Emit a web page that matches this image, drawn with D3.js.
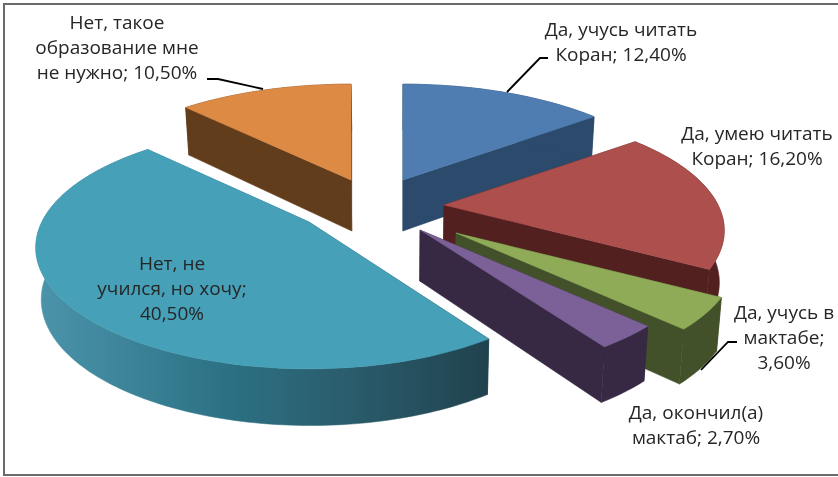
<!DOCTYPE html>
<html><head><meta charset="utf-8">
<script src="https://cdn.jsdelivr.net/npm/d3@7"></script>
<style>html,body{margin:0;padding:0;background:#fff}svg{display:block;filter:blur(0.55px)}</style></head>
<body><svg id="c" width="838" height="477"></svg>
<script>
const categories = ["Да, учусь читать Коран","Да, умею читать Коран","Да, учусь в мактабе","Да, окончил(а) мактаб","Нет, не учился, но хочу","Нет, такое образование мне не нужно"];
const values = [12.4,16.2,3.6,2.7,40.5,10.5];
const labelLines = [
  ["Да, учусь читать","Коран; 12,40%"],
  ["Да, умею читать","Коран; 16,20%"],
  ["Да, учусь в","мактабе;","3,60%"],
  ["Да, окончил(а)","мактаб; 2,70%"],
  ["Нет, не","учился, но хочу;","40,50%"],
  ["Нет, такое","образование мне","не нужно; 10,50%"]
];
const topColors = ["#4f7db1","#ad4f4c","#8fab58","#7c6198","#46a0b8","#dd8a44"];
const wallColors = ["#2c4a6c","#52201f","#42512a","#372943","url(#tealWall)","#623d1c"];
const apexes = [[403,180],[444,205],[456,233],[420,230],[309,222],[351,180]];
const widthScale = [1,1,1,1,0.975,1];
const labelAnchors = [[621,30],[757,134],[784,313],[696,413],[172,264],[117,23]];
const leaders = [[[548,58],[540,58],[507,92]],null,[[737,342],[728,342],[701,370]],null,null,[[207,79],[218,79],[263,89]]];
const drawOrder = [5,0,1,2,3,4];

const RX=274, RY=116, PERSP=0.21, DEPTH=51, LINE=25.2;
const pie=d3.pie().sort(null).value(d=>d);
const arcs=pie(values);
const svg=d3.select("#c");
const defs=svg.append("defs");
const g=defs.append("linearGradient").attr("id","tealWall").attr("gradientUnits","userSpaceOnUse").attr("x1",35).attr("x2",488).attr("y1",0).attr("y2",0);
[[0,"#4b94aa"],[0.2,"#3d8499"],[0.42,"#2c7184"],[0.7,"#2a5c6c"],[1,"#20424e"]].forEach(s=>g.append("stop").attr("offset",s[0]).attr("stop-color",s[1]));

const line=d3.line();
function topPt(a,ang,f){
  const c=Math.cos(ang),s=Math.sin(ang),k=1/(1+PERSP*c);
  return [a[0]+RX*f*s*k, a[1]-RY*c*k, c];
}
function botPt(p){
  return [p[0]-0.015*(p[0]-400), p[1]+DEPTH/(1+0.1*p[2])];
}
function samples(a0,a1){
  const n=Math.max(2,Math.ceil((a1-a0)/0.02));
  return d3.range(n+1).map(i=>a0+(a1-a0)*i/n);
}
const root=svg.append("g");
root.append("rect").attr("x",4).attr("y",4).attr("width",840).attr("height",471).attr("fill","#fff").attr("stroke","#6a6a6a").attr("stroke-width",2);

drawOrder.forEach(i=>{
  const d=arcs[i],a=apexes[i];
  const arc=samples(d.startAngle,d.endAngle).map(t=>topPt(a,t,widthScale[i]));
  const apex=[a[0],a[1],0];
  const gs=root.append("g");
  const wall=wallColors[i];
  const quad=(p,q)=>gs.append("path").attr("d",line([p,q,botPt(q),botPt(p)].map(v=>v.slice(0,2)))+"Z").attr("fill",wall).attr("stroke",wall).attr("stroke-width",0.5);
  quad(apex,arc[0]);
  quad(apex,arc[arc.length-1]);
  const outer=arc.concat(arc.slice().reverse().map(botPt));
  gs.append("path").attr("d",line(outer.map(v=>v.slice(0,2)))+"Z").attr("fill",wall).attr("stroke",wall).attr("stroke-width",0.5);
  gs.append("path").attr("d",line([apex].concat(arc).map(v=>v.slice(0,2)))+"Z").attr("fill",topColors[i]).attr("stroke",topColors[i]).attr("stroke-width",0.5);
});
leaders.forEach(l=>{ if(l) root.append("path").attr("d",line(l)).attr("fill","none").attr("stroke","#000").attr("stroke-width",1.8); });
labelLines.forEach((ls,i)=>{
  const t=root.append("text").attr("text-anchor","middle").attr("font-family","'Open Sans',sans-serif").attr("font-size",19).attr("fill","#262626");
  ls.forEach((s,j)=>t.append("tspan").attr("x",labelAnchors[i][0]).attr("y",labelAnchors[i][1]+j*LINE+6).text(s));
});
</script></body></html>
